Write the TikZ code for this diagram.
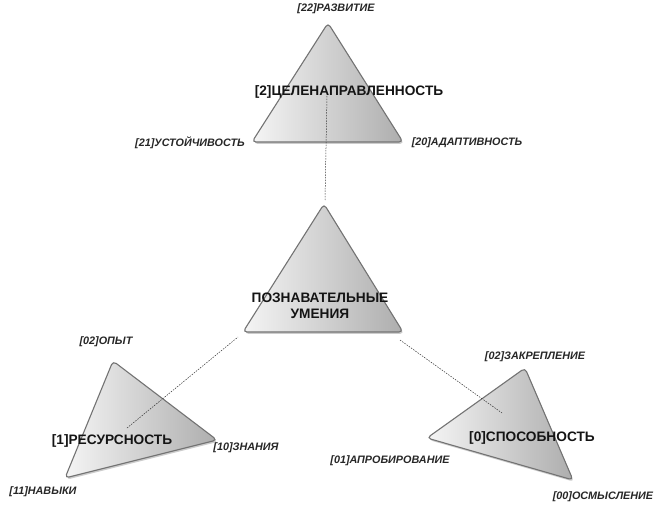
\documentclass[tikz,border=0pt]{standalone}
\usepackage{fontspec}
\setmainfont{Liberation Sans}
\usetikzlibrary{shadows}
\begin{document}
\begin{tikzpicture}[x=1pt,y=-1pt,
  tri/.style={draw=black!55, line width=1.1pt, rounded corners=4pt,
    left color=black!4, right color=black!32,
    drop shadow={shadow xshift=1.2pt,shadow yshift=-1.8pt,opacity=0.4}},
  lbl/.style={font=\fontsize{10.8}{12}\selectfont\bfseries\itshape, text=black!85, inner sep=0pt},
  ttl/.style={font=\fontsize{13.7}{15.5}\selectfont\bfseries, align=center, inner sep=0pt, text=black!92},
  link/.style={dash pattern=on 1.5pt off 1.2pt, black!80, line width=0.5pt}]
\useasboundingbox (0,0) rectangle (656,505);
% triangles
\path[tri] (328,23) -- (403,142) -- (252,142) -- cycle;
\path[tri] (324,204) -- (403,332) -- (243,332) -- cycle;
\path[tri] (113,361) -- (217,440) -- (65,478) -- cycle;
\path[tri] (525,368) -- (573,480) -- (427,438) -- cycle;
% link end points
\coordinate (t1) at (327,96);
\coordinate (t2) at (325,200);
\coordinate (l1) at (127,428);
\coordinate (l2) at (238,337);
\coordinate (r1) at (400,340);
\coordinate (r2) at (502,413);
\draw[link] (t1) -- (t2);
\draw[link] (l1) -- (l2);
\draw[link] (r1) -- (r2);
% titles
\node[ttl] (top) at (349,92) {[2]ЦЕЛЕНАПРАВЛЕННОСТЬ};
\node[ttl] (mid) at (320,306) {ПОЗНАВАТЕЛЬНЫЕ\\УМЕНИЯ};
\node[ttl] (left) at (112,441) {[1]РЕСУРСНОСТЬ};
\node[ttl] (right) at (532,438) {[0]СПОСОБНОСТЬ};
% labels
\node[lbl] (l22) at (336,9) {[22]РАЗВИТИЕ};
\node[lbl] (l21) at (190,143) {[21]УСТОЙЧИВОСТЬ};
\node[lbl] (l20) at (467,143) {[20]АДАПТИВНОСТЬ};
\node[lbl] (l02a) at (106,342) {[02]ОПЫТ};
\node[lbl] (l10) at (246,448) {[10]ЗНАНИЯ};
\node[lbl] (l11) at (43,492) {[11]НАВЫКИ};
\node[lbl] (l02b) at (535,357) {[02]ЗАКРЕПЛЕНИЕ};
\node[lbl] (l01) at (390,461) {[01]АПРОБИРОВАНИЕ};
\node[lbl] (l00) at (603,497) {[00]ОСМЫСЛЕНИЕ};
\end{tikzpicture}
\end{document}
